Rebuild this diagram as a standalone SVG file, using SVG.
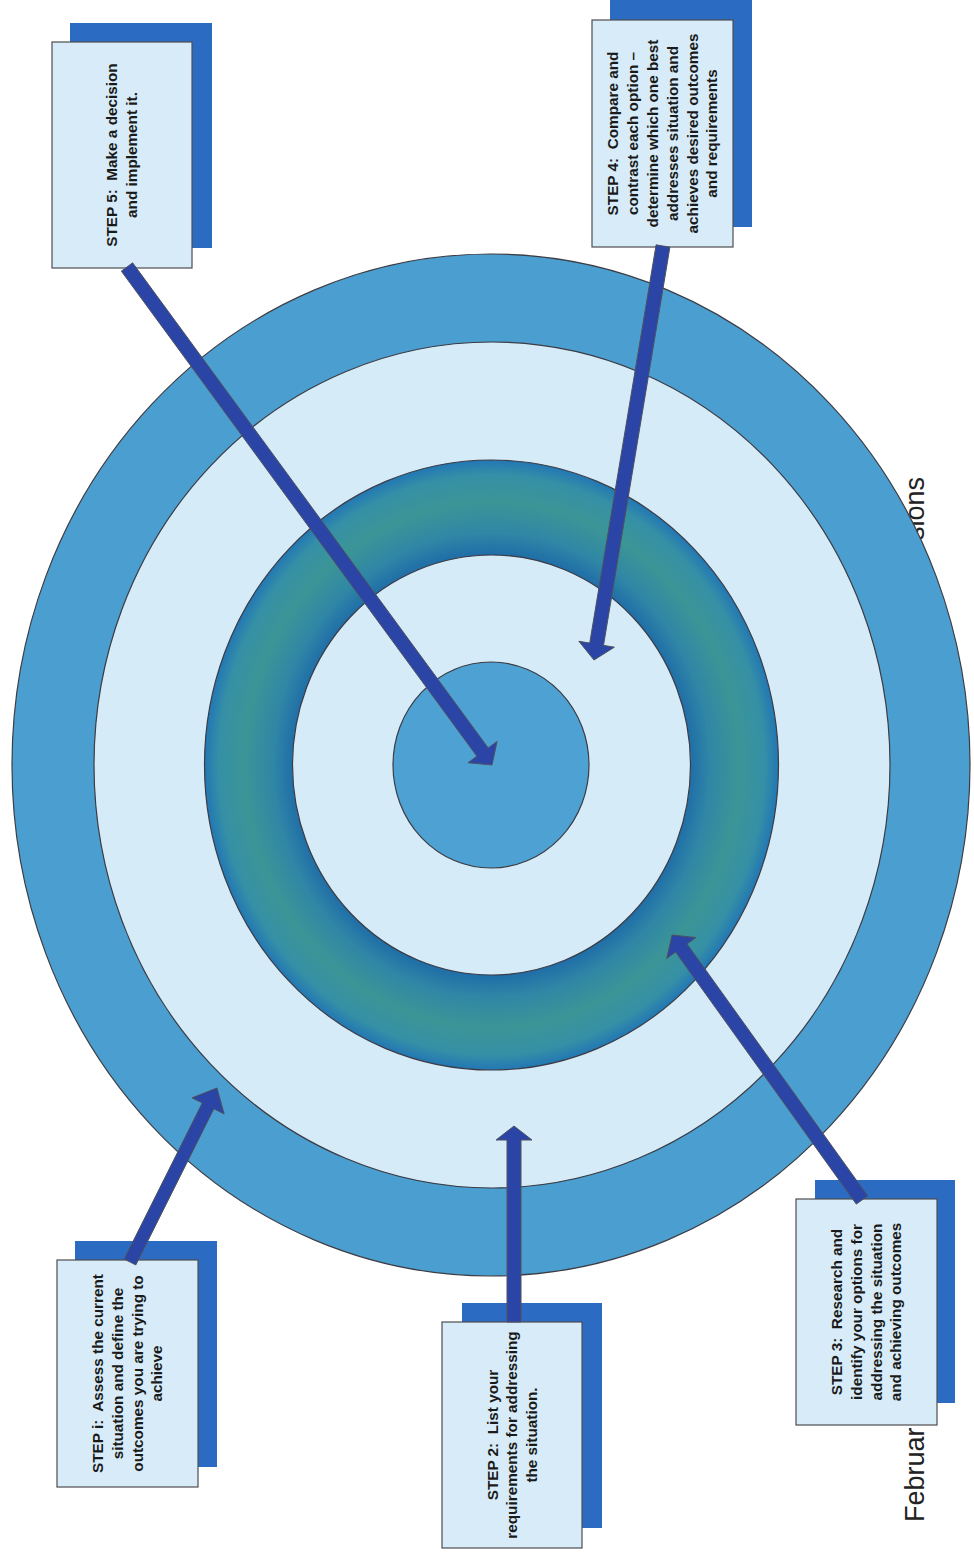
<svg xmlns="http://www.w3.org/2000/svg" width="974" height="1552" viewBox="0 0 974 1552">
<style>
.ring{stroke:#3c3c44;stroke-width:1.2}
.outer{fill:#4b9fd0}
.light{fill:#d5ebf7}
.core{fill:#4da2d3}
.shadow{fill:#2c6bc2}
.box{fill:#d7ecf8;stroke:#4d4d52;stroke-width:1.2}
.lbl{font-family:"Liberation Sans",Arial,sans-serif;font-weight:bold;font-size:15.3px;fill:#1a1a1a;text-anchor:middle}
.bg{font-family:"Liberation Sans",Arial,sans-serif;font-size:27px;fill:#222}
.arrow{fill:#2b45a6;stroke:#50525e;stroke-width:1}
</style>
<defs>
<radialGradient id="green" cx="0.5" cy="0.5" r="0.5">
<stop offset="0.68" stop-color="#1d6aa8"/>
<stop offset="0.76" stop-color="#2f86a6"/>
<stop offset="0.86" stop-color="#3b9596"/>
<stop offset="0.95" stop-color="#3590a6"/>
<stop offset="1" stop-color="#2277b4"/>
</radialGradient>
</defs>
<rect width="974" height="1552" fill="#ffffff"/>
<text class="bg" transform="translate(924,1522) rotate(-90)">Februar</text>
<text class="bg" transform="translate(924,477) rotate(-90)" text-anchor="end">sions</text>
<g id="target">
<ellipse class="ring outer" cx="491" cy="765" rx="479" ry="511"/>
<ellipse class="ring light" cx="492" cy="765" rx="398" ry="423"/>
<ellipse class="ring" fill="url(#green)" cx="491.5" cy="765" rx="287" ry="305"/>
<ellipse class="ring light" cx="491.5" cy="765" rx="199" ry="210"/>
<ellipse class="ring core" cx="491" cy="765" rx="98" ry="103"/>
</g>
<g id="step1">
<rect class="shadow" x="75" y="1241" width="142" height="226"/>
<rect class="box" x="57" y="1260" width="141" height="227"/>
<text class="lbl" xml:space="preserve" transform="translate(127.5,1373.5) rotate(-90)"><tspan x="0" y="-24.2">STEP i:  Assess the current</tspan><tspan x="0" y="-4.6">situation and define the</tspan><tspan x="0" y="15">outcomes you are trying to</tspan><tspan x="0" y="34.6">achieve</tspan></text>
</g>
<g id="step2">
<rect class="shadow" x="462" y="1303" width="140" height="225"/>
<rect class="box" x="442" y="1322" width="140" height="226"/>
<text class="lbl" xml:space="preserve" transform="translate(512,1435) rotate(-90)"><tspan x="0" y="-14.3">STEP 2:  List your</tspan><tspan x="0" y="5.3">requirements for addressing</tspan><tspan x="0" y="24.9">the situation.</tspan></text>
</g>
<g id="step3">
<rect class="shadow" x="815" y="1180" width="140" height="223"/>
<rect class="box" x="796" y="1199" width="141" height="226"/>
<text class="lbl" xml:space="preserve" transform="translate(866.5,1312) rotate(-90)"><tspan x="0" y="-24.2">STEP 3:  Research and</tspan><tspan x="0" y="-4.6">identify your options for</tspan><tspan x="0" y="15">addressing the situation</tspan><tspan x="0" y="34.6">and achieving outcomes</tspan></text>
</g>
<g id="step4">
<rect class="shadow" x="610" y="0" width="142" height="227"/>
<rect class="box" x="592" y="20" width="141" height="227"/>
<text class="lbl" xml:space="preserve" transform="translate(662.5,133.5) rotate(-90)"><tspan x="0" y="-44.2">STEP 4:  Compare and</tspan><tspan x="0" y="-24.4">contrast each option –</tspan><tspan x="0" y="-4.6">determine which one best</tspan><tspan x="0" y="15.2">addresses situation and</tspan><tspan x="0" y="35">achieves desired outcomes</tspan><tspan x="0" y="54.8">and requirements</tspan></text>
</g>
<g id="step5">
<rect class="shadow" x="70" y="23" width="142" height="225"/>
<rect class="box" x="52" y="42" width="140" height="226"/>
<text class="lbl" xml:space="preserve" transform="translate(122,155) rotate(-90)"><tspan x="0" y="-4.8">STEP 5:  Make a decision</tspan><tspan x="0" y="15.2">and implement it.</tspan></text>
</g>
<g id="connectors">
<polygon class="arrow" points="124.19,1259.09 202.25,1102.97 191.97,1097.83 217,1088 224.15,1113.93 213.87,1108.79 135.81,1264.91"/>
<polygon class="arrow" points="507,1322 507,1140 496,1140 514,1126 532,1140 521,1140 521,1322"/>
<polygon class="arrow" points="856.31,1204.08 675.63,952.08 666.69,958.49 672,935 695.95,937.51 687.01,943.92 867.69,1195.92"/>
<polygon class="arrow" points="656.10,244.85 589.73,643.07 578.87,641.26 594,660 614.39,647.18 603.53,645.37 669.90,247.15"/>
<polygon class="arrow" points="121.35,271.14 476.89,756.23 468.02,762.73 492,765 497.06,741.45 488.19,747.95 132.65,262.86"/>
</g>
</svg>
